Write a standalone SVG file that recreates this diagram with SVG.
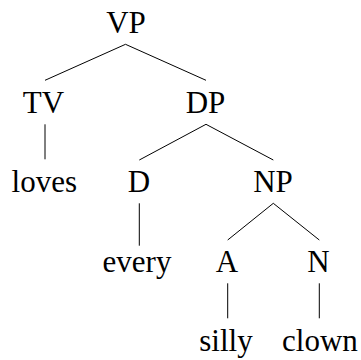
<svg xmlns="http://www.w3.org/2000/svg" width="361" height="360" viewBox="0 0 361 360">
<style>
text{font-family:"Liberation Serif","Times New Roman","DejaVu Serif",serif;font-size:31px;fill:#000;text-anchor:middle}
line{stroke:#000;stroke-width:1}
</style>
<rect width="361" height="360" fill="#fff"/>
<g id="connectors">
<line x1="125.5" y1="44.3" x2="45" y2="80.3"/>
<line x1="125.5" y1="44.3" x2="206" y2="80.3"/>
<line x1="45" y1="124.3" x2="45" y2="159.3"/>
<line x1="206" y1="124.3" x2="139.3" y2="160"/>
<line x1="206" y1="124.3" x2="273.3" y2="160"/>
<line x1="139.3" y1="203.3" x2="139.3" y2="245.7"/>
<line x1="273.3" y1="203.3" x2="227.7" y2="240"/>
<line x1="273.3" y1="203.3" x2="319.3" y2="240"/>
<line x1="227.7" y1="283.3" x2="227.7" y2="318.3"/>
<line x1="319.3" y1="283.3" x2="319.3" y2="318.3"/>
</g>
<g id="VP"><text x="126" y="33.3">VP</text></g>
<g id="TV"><text x="43.5" y="112.7">TV</text></g>
<g id="DP"><text x="205.5" y="112.7">DP</text></g>
<g id="loves"><text x="44.3" y="192.3">loves</text></g>
<g id="D"><text x="139" y="192.3">D</text></g>
<g id="NP"><text x="273" y="192.3">NP</text></g>
<g id="every"><text x="137" y="272.3">every</text></g>
<g id="A"><text x="227" y="272.3">A</text></g>
<g id="N"><text x="318.5" y="272.3">N</text></g>
<g id="silly"><text x="226" y="351">silly</text></g>
<g id="clown"><text x="320" y="351">clown</text></g>
</svg>
